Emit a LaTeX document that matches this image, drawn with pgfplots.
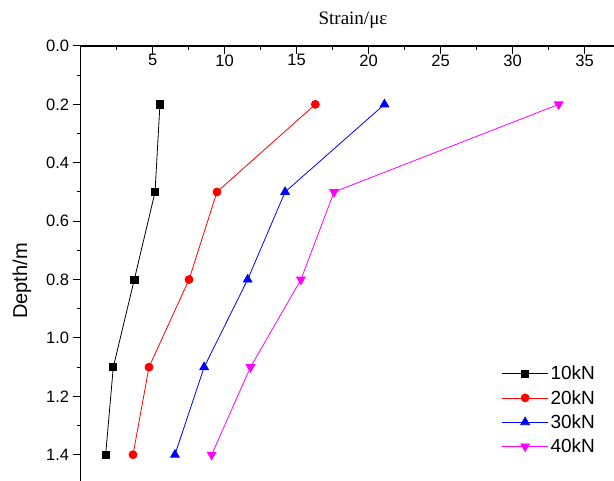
\documentclass[border=0pt]{standalone}
\usepackage{fontspec}
\setmainfont{Liberation Sans}
\newfontfamily\timesfont{Liberation Serif}
\usepackage{pgfplots}
\pgfplotsset{compat=1.18}
\definecolor{mag}{RGB}{255,0,255}

\begin{document}
\begin{tikzpicture}
\useasboundingbox (0,0) rectangle (614pt,481pt);
\begin{axis}[
  at={(80.6pt,0pt)}, anchor=south west,
  scale only axis, width=540pt, height=435pt,
  xmin=0, xmax=37.5, ymin=0, ymax=1.49,
  y dir=reverse,
  axis x line=top, axis y line=left,
  axis line style={-, line width=1.2pt},
  xtick={5,10,...,35}, minor xtick={2.5,7.5,...,37.5},
  ytick={0,0.2,...,1.4}, minor ytick={0.1,0.3,...,1.5},
  xtick align=inside, ytick align=outside,
  major tick length=8pt, minor tick length=4pt,
  every tick/.style={black, line width=1pt},
  ticklabel style={font=\fontsize{16.5}{18}\selectfont},
  xticklabel style={anchor=north, yshift=-5pt},
  /pgf/number format/assume math mode=true,
  yticklabel style={/pgf/number format/fixed, /pgf/number format/fixed zerofill, /pgf/number format/precision=1},
  legend style={at={(0.962,0.274)}, anchor=north east, draw=none, fill=none,
    font=\fontsize{19}{24}\selectfont, row sep=5pt},
  legend cell align=left,
  legend image code/.code={\draw[mark repeat=2, mark phase=2, #1] plot coordinates {(0pt,0pt)(23pt,0pt)(46pt,0pt)};},
  clip=false,
]
\addplot[black, line width=0.8pt, mark=square*, mark size=3.6pt] coordinates {(5.51,0.2)(5.17,0.5)(3.73,0.8)(2.27,1.1)(1.74,1.4)};
\addlegendentry{10kN}
\addplot[red, line width=0.8pt, mark=*, mark size=4pt] coordinates {(16.3,0.2)(9.47,0.5)(7.53,0.8)(4.75,1.1)(3.64,1.4)};
\addlegendentry{20kN}
\addplot[blue, line width=0.8pt, mark=triangle*, mark size=5pt] coordinates {(21.1,0.2)(14.2,0.5)(11.6,0.8)(8.58,1.1)(6.55,1.4)};
\addlegendentry{30kN}
\addplot[mag, line width=0.8pt, mark=triangle*, mark size=5pt, mark options={rotate=180}] coordinates {(33.2,0.2)(17.6,0.5)(15.3,0.8)(11.8,1.1)(9.1,1.4)};
\addlegendentry{40kN}
\end{axis}
\node[font=\timesfont\fontsize{19}{22}\selectfont] at (353pt,461pt) {Strain/με};
\node[rotate=90, font=\fontsize{20}{22}\selectfont] at (22pt,200pt) {Depth/m};
\end{tikzpicture}
\end{document}
